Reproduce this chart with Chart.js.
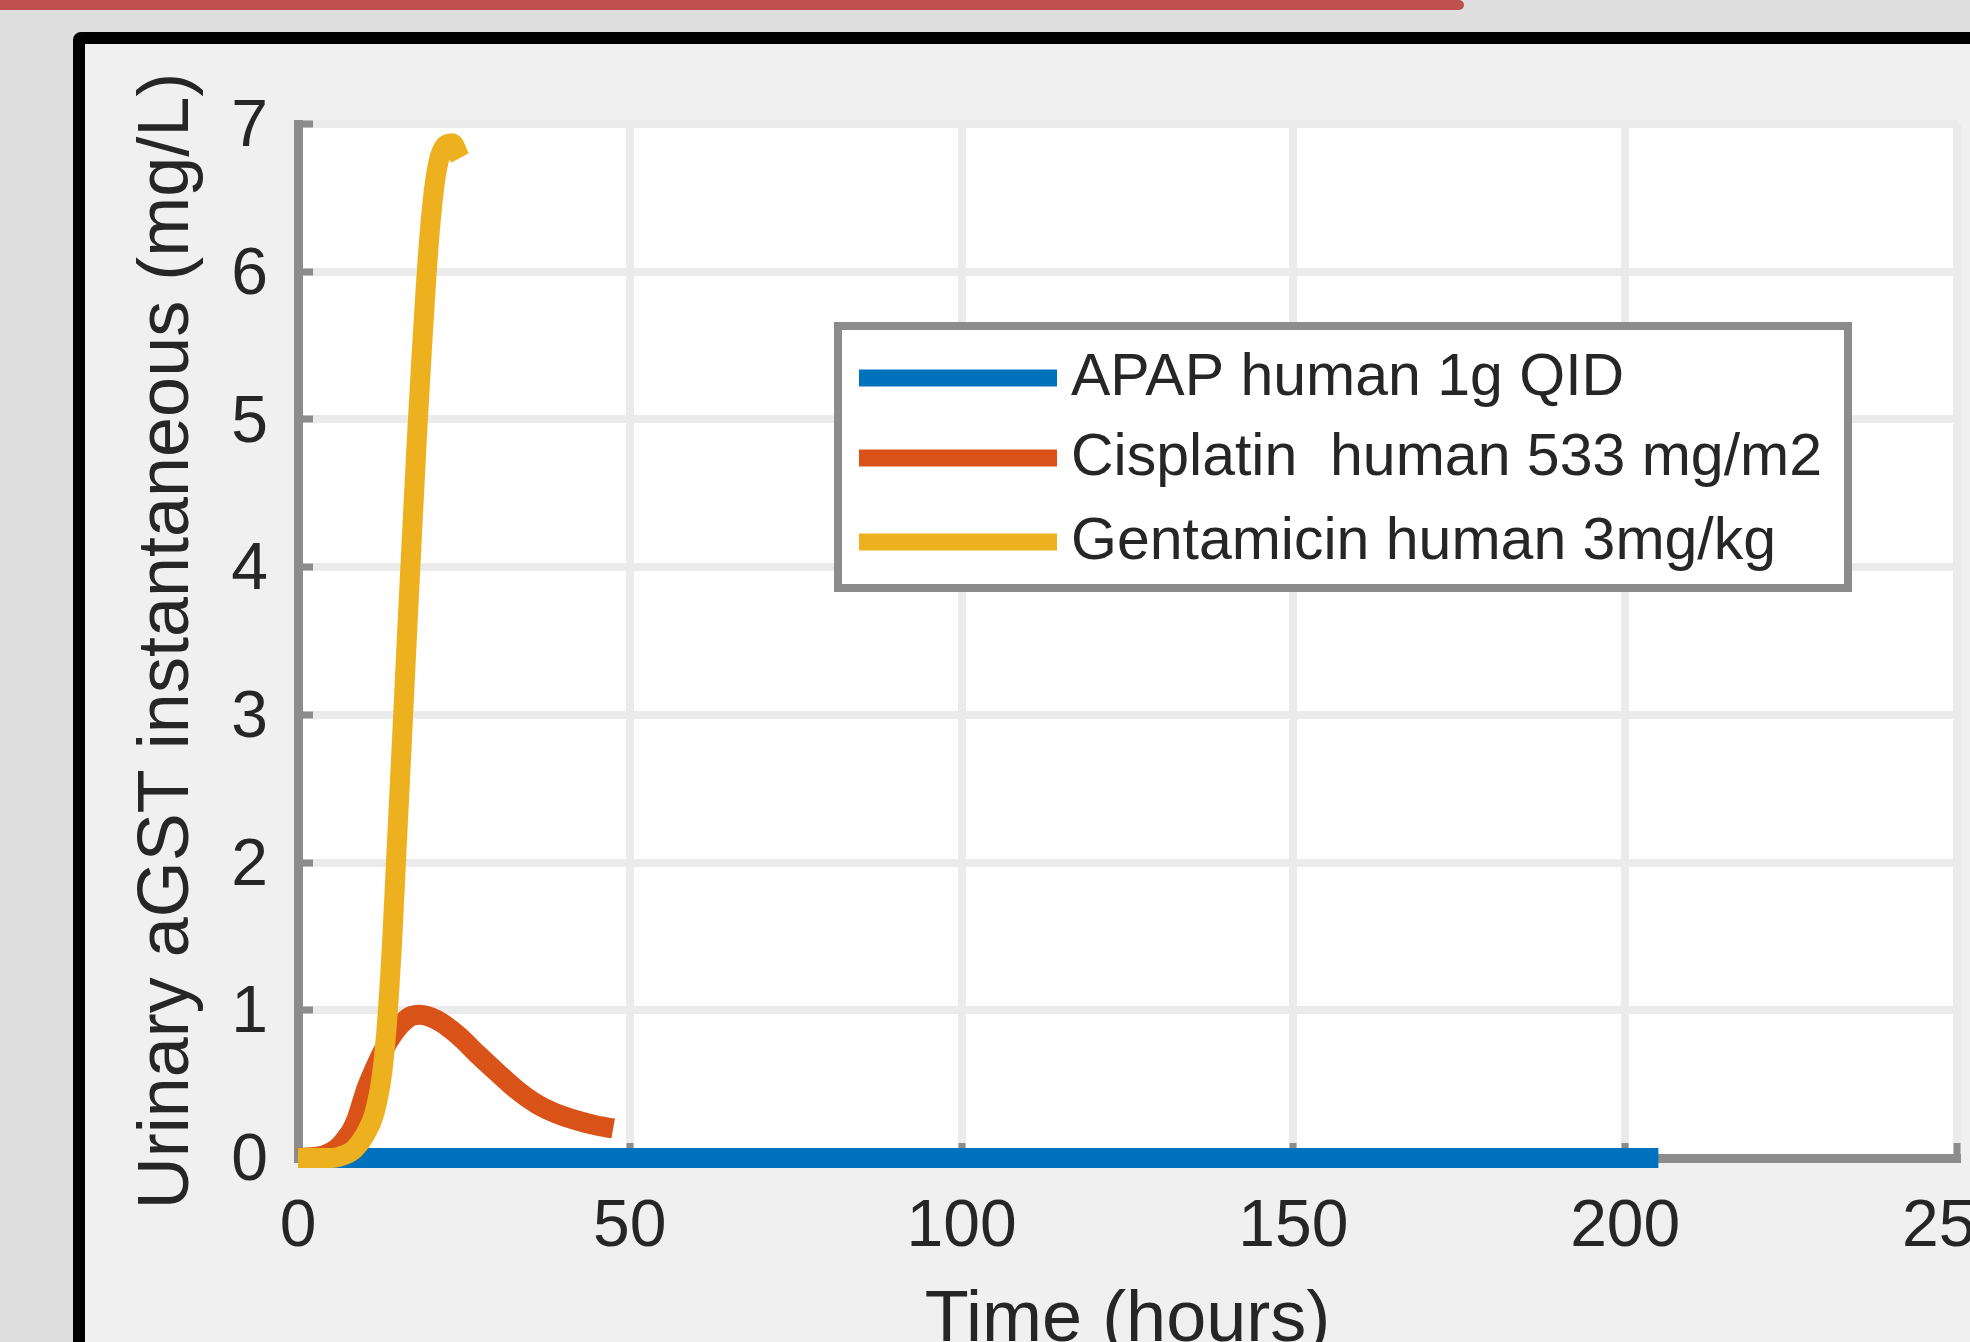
<!DOCTYPE html>
<html>
<head>
<meta charset="utf-8">
<script src="https://cdn.jsdelivr.net/npm/chart.js@4.4.1/dist/chart.umd.min.js"></script>
<style>
  html, body { margin: 0; padding: 0; overflow: hidden; background: #dfdfdf; }
  #barra { position: absolute; left: 0; top: 0; width: 1464px; height: 10px; background: #c0504d; border-radius: 0 6px 6px 0; }
  #marco { position: absolute; left: 73px; top: 32px; width: 2000px; height: 1500px; border: 12px solid #000; border-radius: 8px; background: #f0f0f0; }
  #grafico { position: absolute; left: 0; top: 0; }
</style>
</head>
<body>
<div id="barra"></div>
<div id="marco"></div>
<canvas id="grafico" width="1970" height="1400"></canvas>
<script>
// datos (tiempo en horas, aGST en mg/L)
var apap_tiempo = [0, 50, 100, 150, 205];
var apap_valor = [0, 0, 0, 0, 0];

var cisplatino_tiempo = [0, 2, 4, 6, 7, 8.1, 8.8, 10.3, 11.5, 13, 14.2, 15.4, 17, 18.3, 20.9, 24, 27, 30, 33, 36, 39, 42, 45, 47.5];
var cisplatino_valor = [0, 0.005, 0.02, 0.07, 0.12, 0.19, 0.26, 0.47, 0.6, 0.74, 0.83, 0.9, 0.96, 0.97, 0.935, 0.835, 0.705, 0.58, 0.46, 0.365, 0.3, 0.255, 0.22, 0.2];

var gentamicina_tiempo = [0, 5, 7, 8.5, 10, 11.5, 12.7, 13.4, 14.2, 14.9, 15.7, 16.4, 17.2, 17.9, 18.6, 19.2, 19.8, 20.5, 21.2, 22.1, 23.2, 24.4];
var gentamicina_valor = [0, 0, 0.02, 0.06, 0.15, 0.3, 0.58, 0.91, 1.48, 2.13, 2.86, 3.52, 4.24, 4.86, 5.42, 5.86, 6.24, 6.56, 6.75, 6.85, 6.87, 6.77];

var etiquetas = ["APAP human 1g QID", "Cisplatin  human 533 mg/m2", "Gentamicin human 3mg/kg"];
var colores = ["#0072bd", "#d95319", "#edb120"];

var fuente = '"Liberation Sans", Arial, Helvetica, sans-serif';
var ctx = document.getElementById('grafico').getContext('2d');

function puntos(tiempo, valor) {
    var lista = [];
    for (i = 0; i < tiempo.length; i++) {
        lista.push({ x: tiempo[i], y: valor[i] });
    }
    return lista;
}

function serie(n, tiempo, valor) {
    return {
        label: etiquetas[n],
        data: puntos(tiempo, valor),
        borderColor: colores[n],
        backgroundColor: colores[n],
        borderWidth: 20,
        borderCapStyle: 'butt',
        borderJoinStyle: 'round',
        cubicInterpolationMode: 'monotone',
        pointRadius: 0,
        fill: false,
        clip: false,
        order: 3 - n
    };
}

// fondo blanco del area de ejes
var fondo = {
    id: 'fondo',
    beforeDraw: function (chart) {
        var a = chart.chartArea;
        chart.ctx.save();
        chart.ctx.fillStyle = '#ffffff';
        chart.ctx.fillRect(a.left, a.top, a.right - a.left, a.bottom - a.top);
        chart.ctx.restore();
    }
};

// leyenda dentro de los ejes, como en matlab
var leyenda = {
    id: 'leyenda',
    afterDatasetsDraw: function (chart) {
        var c = chart.ctx;
        c.save();
        c.fillStyle = '#ffffff';
        c.fillRect(838, 326, 1010, 262);
        c.strokeStyle = '#8c8c8c';
        c.lineWidth = 8;
        c.strokeRect(838, 326, 1010, 262);
        var filas = [378, 458, 542];
        c.font = '59px ' + fuente;
        c.textBaseline = 'middle';
        chart.data.datasets.forEach(function (d, k) {
            c.strokeStyle = d.borderColor;
            c.lineWidth = 17;
            c.beginPath();
            c.moveTo(859, filas[k]);
            c.lineTo(1057, filas[k]);
            c.stroke();
            c.fillStyle = '#262626';
            c.fillText(d.label, 1071, filas[k] + 1);
        });
        c.restore();
    }
};

var grafico = new Chart(ctx, {
    type: 'line',
    data: {
        datasets: [
            serie(0, apap_tiempo, apap_valor),
            serie(1, cisplatino_tiempo, cisplatino_valor),
            serie(2, gentamicina_tiempo, gentamicina_valor)
        ]
    },
    options: {
        responsive: false,
        animation: false,
        devicePixelRatio: 1,
        layout: { padding: { left: 0, top: 124, right: 13, bottom: 0 } },
        plugins: { legend: { display: false }, tooltip: { enabled: false } },
        scales: {
            x: {
                type: 'linear',
                min: 0,
                max: 250,
                ticks: { stepSize: 50, padding: 45, color: '#262626', font: { family: fuente, size: 66 }, maxRotation: 0 },
                grid: { color: '#ebebeb', lineWidth: 8, tickLength: -15, tickColor: '#8c8c8c', tickWidth: 7 },
                border: { color: '#8c8c8c', width: 9 },
                title: { display: true, text: 'Time (hours)', color: '#262626', font: { family: fuente, size: 72 }, padding: { top: 0, bottom: 36 } },
                afterFit: function (s) { s.height = 242; s.paddingLeft = 0; s.paddingRight = 0; }
            },
            y: {
                min: 0,
                max: 7,
                ticks: { stepSize: 1, padding: 45, labelOffset: 4, color: '#262626', font: { family: fuente, size: 66 } },
                grid: { color: '#ebebeb', lineWidth: 8, tickLength: -15, tickColor: '#8c8c8c', tickWidth: 7 },
                border: { color: '#8c8c8c', width: 9 },
                title: { display: true, text: 'Urinary aGST instantaneous (mg/L)', color: '#262626', font: { family: fuente, size: 72 }, padding: { top: 125, bottom: 0 } },
                afterFit: function (s) { s.width = 298; s.paddingTop = 0; s.paddingBottom = 0; }
            }
        }
    },
    plugins: [fondo, leyenda]
});
</script>
</body>
</html>
